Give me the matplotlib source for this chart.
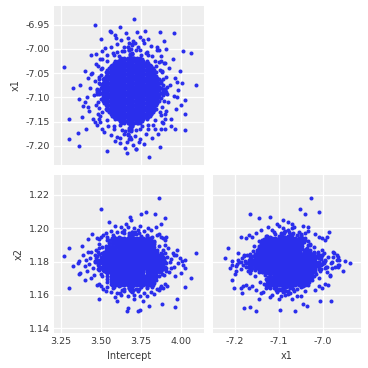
import matplotlib
matplotlib.use("Agg")
import matplotlib.pyplot as plt
import numpy as np

# posterior draws (Intercept, x1, x2)
# dense centre of the cloud, one line per Intercept value
core_intercept = ([3.510] * 7 + [3.529] * 11 + [3.549] * 13 + [3.568] * 15
                  + [3.588] * 17 + [3.607] * 17 + [3.627] * 19 + [3.646] * 19
                  + [3.666] * 19 + [3.685] * 19 + [3.705] * 19 + [3.724] * 19
                  + [3.744] * 19 + [3.763] * 17 + [3.783] * 17 + [3.802] * 15
                  + [3.822] * 13 + [3.841] * 11 + [3.861] * 7)
core_x1 = [
    -7.108, -7.100, -7.093, -7.085, -7.078, -7.070, -7.063,
    -7.123, -7.115, -7.108, -7.100, -7.093, -7.085, -7.078, -7.070, -7.063, -7.055, -7.048,
    -7.130, -7.123, -7.115, -7.108, -7.100, -7.093, -7.085, -7.078, -7.070, -7.063, -7.055, -7.048, -7.040,
    -7.138, -7.130, -7.123, -7.115, -7.108, -7.100, -7.093, -7.085, -7.078, -7.070, -7.063, -7.055, -7.048, -7.040, -7.033,
    -7.145, -7.138, -7.130, -7.123, -7.115, -7.108, -7.100, -7.093, -7.085, -7.078, -7.070, -7.063, -7.055, -7.048, -7.040, -7.033, -7.025,
    -7.145, -7.138, -7.130, -7.123, -7.115, -7.108, -7.100, -7.093, -7.085, -7.078, -7.070, -7.063, -7.055, -7.048, -7.040, -7.033, -7.025,
    -7.153, -7.145, -7.138, -7.130, -7.123, -7.115, -7.108, -7.100, -7.093, -7.085, -7.078, -7.070, -7.063, -7.055, -7.048, -7.040, -7.033, -7.025, -7.018,
    -7.153, -7.145, -7.138, -7.130, -7.123, -7.115, -7.108, -7.100, -7.093, -7.085, -7.078, -7.070, -7.063, -7.055, -7.048, -7.040, -7.033, -7.025, -7.018,
    -7.153, -7.145, -7.138, -7.130, -7.123, -7.115, -7.108, -7.100, -7.093, -7.085, -7.078, -7.070, -7.063, -7.055, -7.048, -7.040, -7.033, -7.025, -7.018,
    -7.153, -7.145, -7.138, -7.130, -7.123, -7.115, -7.108, -7.100, -7.093, -7.085, -7.078, -7.070, -7.063, -7.055, -7.048, -7.040, -7.033, -7.025, -7.018,
    -7.153, -7.145, -7.138, -7.130, -7.123, -7.115, -7.108, -7.100, -7.093, -7.085, -7.078, -7.070, -7.063, -7.055, -7.048, -7.040, -7.033, -7.025, -7.018,
    -7.153, -7.145, -7.138, -7.130, -7.123, -7.115, -7.108, -7.100, -7.093, -7.085, -7.078, -7.070, -7.063, -7.055, -7.048, -7.040, -7.033, -7.025, -7.018,
    -7.153, -7.145, -7.138, -7.130, -7.123, -7.115, -7.108, -7.100, -7.093, -7.085, -7.078, -7.070, -7.063, -7.055, -7.048, -7.040, -7.033, -7.025, -7.018,
    -7.145, -7.138, -7.130, -7.123, -7.115, -7.108, -7.100, -7.093, -7.085, -7.078, -7.070, -7.063, -7.055, -7.048, -7.040, -7.033, -7.025,
    -7.145, -7.138, -7.130, -7.123, -7.115, -7.108, -7.100, -7.093, -7.085, -7.078, -7.070, -7.063, -7.055, -7.048, -7.040, -7.033, -7.025,
    -7.138, -7.130, -7.123, -7.115, -7.108, -7.100, -7.093, -7.085, -7.078, -7.070, -7.063, -7.055, -7.048, -7.040, -7.033,
    -7.130, -7.123, -7.115, -7.108, -7.100, -7.093, -7.085, -7.078, -7.070, -7.063, -7.055, -7.048, -7.040,
    -7.123, -7.115, -7.108, -7.100, -7.093, -7.085, -7.078, -7.070, -7.063, -7.055, -7.048,
    -7.108, -7.100, -7.093, -7.085, -7.078, -7.070, -7.063,
]
core_x2 = [
    1.1752, 1.1768, 1.1784, 1.1800, 1.1816, 1.1832, 1.1848,
    1.1736, 1.1752, 1.1768, 1.1784, 1.1800, 1.1816, 1.1832, 1.1848, 1.1864, 1.1880, 1.1896,
    1.1736, 1.1752, 1.1768, 1.1784, 1.1800, 1.1816, 1.1832, 1.1848, 1.1864, 1.1880, 1.1896, 1.1912, 1.1928,
    1.1736, 1.1752, 1.1768, 1.1784, 1.1800, 1.1816, 1.1832, 1.1848, 1.1864, 1.1880, 1.1896, 1.1912, 1.1928, 1.1944, 1.1656,
    1.1736, 1.1752, 1.1768, 1.1784, 1.1800, 1.1816, 1.1832, 1.1848, 1.1864, 1.1880, 1.1896, 1.1912, 1.1928, 1.1944, 1.1656, 1.1672, 1.1688,
    1.1752, 1.1768, 1.1784, 1.1800, 1.1816, 1.1832, 1.1848, 1.1864, 1.1880, 1.1896, 1.1912, 1.1928, 1.1944, 1.1656, 1.1672, 1.1688, 1.1704,
    1.1752, 1.1768, 1.1784, 1.1800, 1.1816, 1.1832, 1.1848, 1.1864, 1.1880, 1.1896, 1.1912, 1.1928, 1.1944, 1.1656, 1.1672, 1.1688, 1.1704, 1.1720, 1.1736,
    1.1768, 1.1784, 1.1800, 1.1816, 1.1832, 1.1848, 1.1864, 1.1880, 1.1896, 1.1912, 1.1928, 1.1944, 1.1656, 1.1672, 1.1688, 1.1704, 1.1720, 1.1736, 1.1752,
    1.1784, 1.1800, 1.1816, 1.1832, 1.1848, 1.1864, 1.1880, 1.1896, 1.1912, 1.1928, 1.1944, 1.1656, 1.1672, 1.1688, 1.1704, 1.1720, 1.1736, 1.1752, 1.1768,
    1.1800, 1.1816, 1.1832, 1.1848, 1.1864, 1.1880, 1.1896, 1.1912, 1.1928, 1.1944, 1.1656, 1.1672, 1.1688, 1.1704, 1.1720, 1.1736, 1.1752, 1.1768, 1.1784,
    1.1816, 1.1832, 1.1848, 1.1864, 1.1880, 1.1896, 1.1912, 1.1928, 1.1944, 1.1656, 1.1672, 1.1688, 1.1704, 1.1720, 1.1736, 1.1752, 1.1768, 1.1784, 1.1800,
    1.1832, 1.1848, 1.1864, 1.1880, 1.1896, 1.1912, 1.1928, 1.1944, 1.1656, 1.1672, 1.1688, 1.1704, 1.1720, 1.1736, 1.1752, 1.1768, 1.1784, 1.1800, 1.1816,
    1.1848, 1.1864, 1.1880, 1.1896, 1.1912, 1.1928, 1.1944, 1.1656, 1.1672, 1.1688, 1.1704, 1.1720, 1.1736, 1.1752, 1.1768, 1.1784, 1.1800, 1.1816, 1.1832,
    1.1880, 1.1896, 1.1912, 1.1928, 1.1944, 1.1656, 1.1672, 1.1688, 1.1704, 1.1720, 1.1736, 1.1752, 1.1768, 1.1784, 1.1800, 1.1816, 1.1832,
    1.1896, 1.1912, 1.1928, 1.1944, 1.1656, 1.1672, 1.1688, 1.1704, 1.1720, 1.1736, 1.1752, 1.1768, 1.1784, 1.1800, 1.1816, 1.1832, 1.1848,
    1.1928, 1.1944, 1.1656, 1.1672, 1.1688, 1.1704, 1.1720, 1.1736, 1.1752, 1.1768, 1.1784, 1.1800, 1.1816, 1.1832, 1.1848,
    1.1656, 1.1672, 1.1688, 1.1704, 1.1720, 1.1736, 1.1752, 1.1768, 1.1784, 1.1800, 1.1816, 1.1832, 1.1848,
    1.1688, 1.1704, 1.1720, 1.1736, 1.1752, 1.1768, 1.1784, 1.1800, 1.1816, 1.1832, 1.1848,
    1.1736, 1.1752, 1.1768, 1.1784, 1.1800, 1.1816, 1.1832,
]

# more draws of the centre, lying between the ones above
core2_intercept = ([3.520] * 8 + [3.539] * 12 + [3.559] * 14 + [3.578] * 16
                   + [3.598] * 16 + [3.617] * 18 + [3.637] * 18 + [3.656] * 18
                   + [3.676] * 18 + [3.695] * 18 + [3.715] * 18 + [3.734] * 18
                   + [3.754] * 18 + [3.773] * 16 + [3.793] * 16 + [3.812] * 14
                   + [3.832] * 12 + [3.851] * 8)
core2_x1 = [
    -7.111, -7.104, -7.096, -7.089, -7.081, -7.074, -7.066, -7.059,
    -7.126, -7.119, -7.111, -7.104, -7.096, -7.089, -7.081, -7.074, -7.066, -7.059, -7.051, -7.044,
    -7.134, -7.126, -7.119, -7.111, -7.104, -7.096, -7.089, -7.081, -7.074, -7.066, -7.059, -7.051, -7.044, -7.036,
    -7.141, -7.134, -7.126, -7.119, -7.111, -7.104, -7.096, -7.089, -7.081, -7.074, -7.066, -7.059, -7.051, -7.044, -7.036, -7.029,
    -7.141, -7.134, -7.126, -7.119, -7.111, -7.104, -7.096, -7.089, -7.081, -7.074, -7.066, -7.059, -7.051, -7.044, -7.036, -7.029,
    -7.149, -7.141, -7.134, -7.126, -7.119, -7.111, -7.104, -7.096, -7.089, -7.081, -7.074, -7.066, -7.059, -7.051, -7.044, -7.036, -7.029, -7.021,
    -7.149, -7.141, -7.134, -7.126, -7.119, -7.111, -7.104, -7.096, -7.089, -7.081, -7.074, -7.066, -7.059, -7.051, -7.044, -7.036, -7.029, -7.021,
    -7.149, -7.141, -7.134, -7.126, -7.119, -7.111, -7.104, -7.096, -7.089, -7.081, -7.074, -7.066, -7.059, -7.051, -7.044, -7.036, -7.029, -7.021,
    -7.149, -7.141, -7.134, -7.126, -7.119, -7.111, -7.104, -7.096, -7.089, -7.081, -7.074, -7.066, -7.059, -7.051, -7.044, -7.036, -7.029, -7.021,
    -7.149, -7.141, -7.134, -7.126, -7.119, -7.111, -7.104, -7.096, -7.089, -7.081, -7.074, -7.066, -7.059, -7.051, -7.044, -7.036, -7.029, -7.021,
    -7.149, -7.141, -7.134, -7.126, -7.119, -7.111, -7.104, -7.096, -7.089, -7.081, -7.074, -7.066, -7.059, -7.051, -7.044, -7.036, -7.029, -7.021,
    -7.149, -7.141, -7.134, -7.126, -7.119, -7.111, -7.104, -7.096, -7.089, -7.081, -7.074, -7.066, -7.059, -7.051, -7.044, -7.036, -7.029, -7.021,
    -7.149, -7.141, -7.134, -7.126, -7.119, -7.111, -7.104, -7.096, -7.089, -7.081, -7.074, -7.066, -7.059, -7.051, -7.044, -7.036, -7.029, -7.021,
    -7.141, -7.134, -7.126, -7.119, -7.111, -7.104, -7.096, -7.089, -7.081, -7.074, -7.066, -7.059, -7.051, -7.044, -7.036, -7.029,
    -7.141, -7.134, -7.126, -7.119, -7.111, -7.104, -7.096, -7.089, -7.081, -7.074, -7.066, -7.059, -7.051, -7.044, -7.036, -7.029,
    -7.134, -7.126, -7.119, -7.111, -7.104, -7.096, -7.089, -7.081, -7.074, -7.066, -7.059, -7.051, -7.044, -7.036,
    -7.126, -7.119, -7.111, -7.104, -7.096, -7.089, -7.081, -7.074, -7.066, -7.059, -7.051, -7.044,
    -7.111, -7.104, -7.096, -7.089, -7.081, -7.074, -7.066, -7.059,
]
core2_x2 = [
    1.1744, 1.1760, 1.1776, 1.1792, 1.1808, 1.1824, 1.1840, 1.1856,
    1.1696, 1.1712, 1.1728, 1.1744, 1.1760, 1.1776, 1.1792, 1.1808, 1.1824, 1.1840, 1.1856, 1.1872,
    1.1664, 1.1680, 1.1696, 1.1712, 1.1728, 1.1744, 1.1760, 1.1776, 1.1792, 1.1808, 1.1824, 1.1840, 1.1856, 1.1872,
    1.1920, 1.1936, 1.1664, 1.1680, 1.1696, 1.1712, 1.1728, 1.1744, 1.1760, 1.1776, 1.1792, 1.1808, 1.1824, 1.1840, 1.1856, 1.1872,
    1.1904, 1.1920, 1.1936, 1.1664, 1.1680, 1.1696, 1.1712, 1.1728, 1.1744, 1.1760, 1.1776, 1.1792, 1.1808, 1.1824, 1.1840, 1.1856,
    1.1872, 1.1888, 1.1904, 1.1920, 1.1936, 1.1664, 1.1680, 1.1696, 1.1712, 1.1728, 1.1744, 1.1760, 1.1776, 1.1792, 1.1808, 1.1824, 1.1840, 1.1856,
    1.1856, 1.1872, 1.1888, 1.1904, 1.1920, 1.1936, 1.1664, 1.1680, 1.1696, 1.1712, 1.1728, 1.1744, 1.1760, 1.1776, 1.1792, 1.1808, 1.1824, 1.1840,
    1.1840, 1.1856, 1.1872, 1.1888, 1.1904, 1.1920, 1.1936, 1.1664, 1.1680, 1.1696, 1.1712, 1.1728, 1.1744, 1.1760, 1.1776, 1.1792, 1.1808, 1.1824,
    1.1824, 1.1840, 1.1856, 1.1872, 1.1888, 1.1904, 1.1920, 1.1936, 1.1664, 1.1680, 1.1696, 1.1712, 1.1728, 1.1744, 1.1760, 1.1776, 1.1792, 1.1808,
    1.1808, 1.1824, 1.1840, 1.1856, 1.1872, 1.1888, 1.1904, 1.1920, 1.1936, 1.1664, 1.1680, 1.1696, 1.1712, 1.1728, 1.1744, 1.1760, 1.1776, 1.1792,
    1.1792, 1.1808, 1.1824, 1.1840, 1.1856, 1.1872, 1.1888, 1.1904, 1.1920, 1.1936, 1.1664, 1.1680, 1.1696, 1.1712, 1.1728, 1.1744, 1.1760, 1.1776,
    1.1776, 1.1792, 1.1808, 1.1824, 1.1840, 1.1856, 1.1872, 1.1888, 1.1904, 1.1920, 1.1936, 1.1664, 1.1680, 1.1696, 1.1712, 1.1728, 1.1744, 1.1760,
    1.1760, 1.1776, 1.1792, 1.1808, 1.1824, 1.1840, 1.1856, 1.1872, 1.1888, 1.1904, 1.1920, 1.1936, 1.1664, 1.1680, 1.1696, 1.1712, 1.1728, 1.1744,
    1.1760, 1.1776, 1.1792, 1.1808, 1.1824, 1.1840, 1.1856, 1.1872, 1.1888, 1.1904, 1.1920, 1.1936, 1.1664, 1.1680, 1.1696, 1.1712,
    1.1744, 1.1760, 1.1776, 1.1792, 1.1808, 1.1824, 1.1840, 1.1856, 1.1872, 1.1888, 1.1904, 1.1920, 1.1936, 1.1664, 1.1680, 1.1696,
    1.1744, 1.1760, 1.1776, 1.1792, 1.1808, 1.1824, 1.1840, 1.1856, 1.1872, 1.1888, 1.1904, 1.1920, 1.1936, 1.1664,
    1.1744, 1.1760, 1.1776, 1.1792, 1.1808, 1.1824, 1.1840, 1.1856, 1.1872, 1.1888, 1.1904, 1.1920,
    1.1760, 1.1776, 1.1792, 1.1808, 1.1824, 1.1840, 1.1856, 1.1872,
]

# draws just outside the centre, one block per pair of variables
halo_intercept = [
    3.890, 3.885, 3.868, 3.835, 3.790, 3.742, 3.688, 3.630, 3.580, 3.538, 3.505, 3.485,
    3.475, 3.483, 3.505, 3.538, 3.582, 3.632, 3.688, 3.742, 3.792, 3.835, 3.868, 3.890,
    3.895, 3.882, 3.862, 3.828, 3.788, 3.738, 3.685, 3.630, 3.582, 3.540, 3.505, 3.485,
    3.478, 3.488, 3.508, 3.540, 3.582, 3.632, 3.686, 3.738, 3.788, 3.830, 3.862, 3.885,
    3.690, 3.678, 3.695, 3.682, 3.688, 3.676, 3.692, 3.684, 3.679, 3.694, 3.681, 3.689,
    3.685, 3.677, 3.693, 3.683, 3.690, 3.678, 3.694, 3.682, 3.688, 3.680, 3.692, 3.684,
]
halo_x1 = [
    -7.082, -7.062, -7.043, -7.024, -7.012, -7.002, -7.000, -7.004, -7.012, -7.025, -7.040, -7.062,
    -7.088, -7.110, -7.130, -7.146, -7.160, -7.168, -7.170, -7.166, -7.158, -7.146, -7.130, -7.108,
    -7.082, -7.090, -7.078, -7.095, -7.080, -7.088, -7.092, -7.078, -7.086, -7.094, -7.080, -7.088,
    -7.084, -7.092, -7.079, -7.090, -7.085, -7.093, -7.080, -7.090, -7.084, -7.078, -7.092, -7.086,
    -7.008, -7.012, -7.020, -7.033, -7.050, -7.068, -7.088, -7.108, -7.127, -7.144, -7.156, -7.165,
    -7.168, -7.164, -7.155, -7.142, -7.126, -7.107, -7.087, -7.067, -7.048, -7.032, -7.020, -7.010,
]
halo_x2 = [
    1.1790, 1.1830, 1.1760, 1.1815, 1.1775, 1.1840, 1.1800, 1.1755, 1.1825, 1.1785, 1.1810, 1.1770,
    1.1835, 1.1795, 1.1760, 1.1820, 1.1780, 1.1805, 1.1765, 1.1830, 1.1790, 1.1810, 1.1775, 1.1820,
    1.1795, 1.1848, 1.1892, 1.1925, 1.1955, 1.1972, 1.1968, 1.1975, 1.1950, 1.1928, 1.1890, 1.1848,
    1.1802, 1.1752, 1.1712, 1.1675, 1.1645, 1.1628, 1.1625, 1.1632, 1.1648, 1.1672, 1.1712, 1.1755,
    1.1795, 1.1848, 1.1890, 1.1925, 1.1952, 1.1970, 1.1975, 1.1968, 1.1952, 1.1925, 1.1892, 1.1848,
    1.1800, 1.1752, 1.1710, 1.1675, 1.1648, 1.1630, 1.1625, 1.1632, 1.1650, 1.1675, 1.1712, 1.1755,
]

# outer part of the cloud and the stray draws
tail_intercept = [
    # low / high Intercept
    3.505, 3.498, 3.489, 3.495, 3.482, 3.497, 3.486, 3.493, 3.478, 3.470,
    3.462, 3.455, 3.468, 3.448, 3.440, 3.431, 3.425, 3.437, 3.412, 3.405,
    3.398, 3.388, 3.372, 3.381, 3.360,
    3.872, 3.878, 3.870, 3.885, 3.875, 3.882, 3.871, 3.888, 3.895, 3.905,
    3.910, 3.902, 3.918, 3.925, 3.930, 3.938, 3.945, 3.952, 3.960, 3.968,
    3.978, 3.990, 3.998, 3.935, 4.005,
    # high / low x1
    3.540, 3.575, 3.610, 3.645, 3.680, 3.715, 3.750, 3.785, 3.820, 3.850,
    3.560, 3.600, 3.640, 3.690, 3.730, 3.770, 3.810, 3.625, 3.665, 3.700,
    3.745, 3.585, 3.795, 3.655, 3.725,
    3.545, 3.580, 3.615, 3.650, 3.685, 3.720, 3.755, 3.790, 3.825, 3.560,
    3.600, 3.640, 3.675, 3.710, 3.745, 3.780, 3.815, 3.620, 3.660, 3.700,
    3.735, 3.590, 3.770, 3.650, 3.715,
    # high / low x2
    3.540, 3.575, 3.610, 3.645, 3.680, 3.715, 3.750, 3.785, 3.820, 3.850,
    3.560, 3.600, 3.640, 3.690, 3.730, 3.770, 3.810, 3.625, 3.665, 3.705,
    3.745, 3.585, 3.795, 3.840, 3.655,
    3.540, 3.575, 3.610, 3.645, 3.680, 3.715, 3.750, 3.785, 3.820, 3.850,
    3.560, 3.600, 3.640, 3.690, 3.730, 3.770, 3.810, 3.625, 3.665, 3.705,
    3.745, 3.785, 3.830, 3.590, 3.705,
    # rim of the (Intercept, x1) cloud
    3.495, 3.505, 3.520, 3.480, 3.880, 3.870, 3.855, 3.895, 3.495, 3.505,
    3.525, 3.480, 3.875, 3.862, 3.848, 3.890, 3.460, 3.905, 3.470, 3.900,
    # rim of the (Intercept, x2) cloud
    3.500, 3.515, 3.490, 3.530, 3.870, 3.885, 3.860, 3.895, 3.500, 3.515,
    3.490, 3.530, 3.870, 3.885, 3.860, 3.895, 3.475, 3.905, 3.478, 3.908,
    # rim of the (x1, x2) cloud
    3.690, 3.675, 3.700, 3.665, 3.690, 3.675, 3.700, 3.665, 3.690, 3.675,
    3.700, 3.665, 3.690, 3.675, 3.700, 3.665, 3.680, 3.695, 3.685, 3.672,
    # fill
    3.765, 3.780, 3.795, 3.805, 3.818, 3.785, 3.770, 3.812, 3.800, 3.825,
    3.570, 3.585, 3.598, 3.608, 3.575, 3.592, 3.605, 3.565, 3.580, 3.600,
    3.690, 3.675, 3.700, 3.665, 3.695, 3.680, 3.710, 3.670, 3.705, 3.685,
    3.690, 3.675, 3.700, 3.665, 3.695, 3.680, 3.710, 3.672, 3.705, 3.685,
    # strays
    3.862, 3.500, 3.779, 3.750, 3.838, 3.681, 3.900, 3.688, 3.873, 3.550,
    3.710, 3.269, 3.300, 3.300, 3.327, 3.362, 3.358, 3.400, 3.420, 3.420,
    3.446, 3.462, 3.500, 3.555, 3.565, 3.619, 3.594, 3.702, 3.771, 3.869,
    3.956, 3.890, 4.012, 4.060, 4.088, 3.975, 4.022, 4.025, 4.025, 3.962,
    3.973, 3.536, 3.660, 3.800, 3.869, 3.720, 3.620, 3.670, 3.730, 3.490,
    3.745, 3.660, 3.800, 3.880, 3.600, 3.760,
]
tail_x1 = [
    -7.020, -7.041, -7.058, -7.072, -7.089, -7.104, -7.121, -7.139, -7.158, -7.032,
    -7.066, -7.096, -7.115, -7.145, -7.052, -7.081, -7.128, -7.012, -7.100, -7.165,
    -7.045, -7.118, -7.075, -7.140, -7.103,
    -7.025, -7.048, -7.066, -7.083, -7.101, -7.119, -7.137, -7.152, -7.030, -7.058,
    -7.092, -7.128, -7.110, -7.040, -7.075, -7.145, -7.020, -7.098, -7.060, -7.125,
    -7.085, -7.045, -7.115, -7.160, -7.070,
    -7.012, -7.008, -7.015, -7.005, -7.010, -7.003, -7.012, -7.006, -7.014, -7.002,
    -6.995, -6.990, -6.997, -6.992, -6.996, -6.988, -6.994, -6.982, -6.978, -6.984,
    -6.975, -6.972, -6.980, -6.968, -6.965,
    -7.160, -7.166, -7.158, -7.170, -7.162, -7.168, -7.159, -7.165, -7.157, -7.178,
    -7.182, -7.176, -7.185, -7.179, -7.186, -7.175, -7.183, -7.195, -7.192, -7.198,
    -7.193, -7.190, -7.196, -7.205, -7.207,
    -7.090, -7.060, -7.120, -7.040, -7.100, -7.075, -7.130, -7.050, -7.095, -7.070,
    -7.035, -7.110, -7.080, -7.055, -7.140, -7.085, -7.115, -7.065, -7.125, -7.090,
    -7.045, -7.100, -7.070, -7.035, -7.105,
    -7.070, -7.110, -7.045, -7.095, -7.130, -7.060, -7.085, -7.120, -7.050, -7.100,
    -7.090, -7.140, -7.065, -7.105, -7.040, -7.075, -7.135, -7.085, -7.050, -7.115,
    -7.095, -7.060, -7.080, -7.120, -7.070,
    -7.150, -7.165, -7.172, -7.135, -7.150, -7.165, -7.175, -7.135, -7.020, -7.005,
    -6.998, -7.035, -7.015, -7.003, -6.996, -7.030, -7.150, -7.000, -7.010, -7.165,
    -7.080, -7.095, -7.070, -7.085, -7.090, -7.075, -7.100, -7.085, -7.090, -7.075,
    -7.085, -7.095, -7.080, -7.095, -7.070, -7.090, -7.082, -7.088, -7.092, -7.078,
    -7.160, -7.168, -7.152, -7.175, -7.010, -7.002, -7.018, -6.995, -7.160, -7.168,
    -7.152, -7.175, -7.010, -7.002, -7.018, -6.995, -7.182, -6.990, -7.185, -6.988,
    -7.088, -7.075, -7.095, -7.080, -7.070, -7.100, -7.065, -7.092, -7.060, -7.085,
    -7.085, -7.072, -7.095, -7.078, -7.100, -7.065, -7.090, -7.075, -7.088, -7.082,
    -7.054, -7.048, -7.041, -7.036, -7.050, -7.044, -7.034, -7.058, -7.038, -7.030,
    -7.128, -7.120, -7.115, -7.125, -7.132, -7.118, -7.124, -7.113, -7.136, -7.110,
    -7.028, -7.053, -7.008, -7.040, -7.166, -7.121, -7.144, -7.090, -7.070, -7.079,
    -6.987, -7.037, -7.144, -7.185, -7.081, -7.200, -7.174, -7.110, -7.060, -7.120,
    -7.050, -6.951, -6.980, -6.963, -6.966, -6.955, -6.977, -6.939, -6.963, -6.965,
    -6.968, -6.984, -7.005, -7.008, -7.074, -7.068, -7.106, -7.135, -7.168, -7.165,
    -7.100, -7.210, -7.215, -7.223, -7.202, -7.206, -7.183, -7.178, -7.152, -7.145,
    -7.098, -7.064, -7.037, -7.046, -7.006, -6.982,
]
tail_x2 = [
    1.1850, 1.1722, 1.1880, 1.1790, 1.1755, 1.1830, 1.1905, 1.1770, 1.1812, 1.1795,
    1.1842, 1.1718, 1.1868, 1.1760, 1.1702, 1.1820, 1.1788, 1.1860, 1.1745, 1.1810,
    1.1776, 1.1842, 1.1728, 1.1895, 1.1805,
    1.1790, 1.1832, 1.1742, 1.1868, 1.1810, 1.1722, 1.1850, 1.1775, 1.1902, 1.1760,
    1.1825, 1.1745, 1.1880, 1.1735, 1.1798, 1.1815, 1.1850, 1.1768, 1.1712, 1.1840,
    1.1792, 1.1822, 1.1730, 1.1760, 1.1805,
    1.1780, 1.1840, 1.1725, 1.1815, 1.1760, 1.1870, 1.1798, 1.1742, 1.1830, 1.1788,
    1.1812, 1.1770, 1.1852, 1.1738, 1.1805, 1.1825, 1.1765, 1.1790, 1.1830, 1.1712,
    1.1850, 1.1765, 1.1795, 1.1808, 1.1778,
    1.1800, 1.1760, 1.1835, 1.1745, 1.1818, 1.1788, 1.1862, 1.1730, 1.1810, 1.1842,
    1.1778, 1.1802, 1.1758, 1.1832, 1.1795, 1.1768, 1.1820, 1.1785, 1.1850, 1.1740,
    1.1812, 1.1795, 1.1772, 1.1805, 1.1780,
    1.1950, 1.1962, 1.1948, 1.1970, 1.1955, 1.1965, 1.1952, 1.1960, 1.1947, 1.1958,
    1.1985, 1.1980, 1.1992, 1.1978, 1.1988, 1.1982, 1.1990, 1.2005, 1.2010, 1.2002,
    1.2012, 1.2015, 1.2000, 1.2008, 1.2025,
    1.1645, 1.1638, 1.1650, 1.1632, 1.1642, 1.1636, 1.1648, 1.1640, 1.1646, 1.1635,
    1.1618, 1.1612, 1.1620, 1.1615, 1.1622, 1.1610, 1.1618, 1.1598, 1.1592, 1.1600,
    1.1590, 1.1595, 1.1602, 1.1585, 1.1575,
    1.1810, 1.1760, 1.1840, 1.1780, 1.1820, 1.1750, 1.1790, 1.1850, 1.1770, 1.1830,
    1.1790, 1.1860, 1.1780, 1.1840, 1.1760, 1.1810, 1.1800, 1.1790, 1.1820, 1.1770,
    1.1650, 1.1635, 1.1665, 1.1625, 1.1650, 1.1640, 1.1630, 1.1662, 1.1950, 1.1962,
    1.1938, 1.1972, 1.1950, 1.1940, 1.1965, 1.1932, 1.1660, 1.1948, 1.1942, 1.1655,
    1.1650, 1.1638, 1.1628, 1.1660, 1.1650, 1.1640, 1.1630, 1.1662, 1.1950, 1.1962,
    1.1972, 1.1940, 1.1950, 1.1940, 1.1965, 1.1932, 1.1655, 1.1948, 1.1945, 1.1658,
    1.1866, 1.1880, 1.1858, 1.1874, 1.1890, 1.1895, 1.1850, 1.1862, 1.1905, 1.1878,
    1.1690, 1.1712, 1.1700, 1.1726, 1.1725, 1.1680, 1.1742, 1.1708, 1.1740, 1.1672,
    1.1862, 1.1878, 1.1866, 1.1884, 1.1894, 1.1852, 1.1898, 1.1888, 1.1875, 1.1905,
    1.1695, 1.1712, 1.1688, 1.1730, 1.1720, 1.1740, 1.1705, 1.1680, 1.1738, 1.1722,
    1.2182, 1.2116, 1.2097, 1.2085, 1.2085, 1.2068, 1.2062, 1.2050, 1.2025, 1.2040,
    1.1976, 1.1834, 1.1880, 1.1643, 1.1774, 1.1724, 1.1790, 1.1690, 1.1860, 1.1935,
    1.1965, 1.1804, 1.1760, 1.1780, 1.1830, 1.1740, 1.1860, 1.1794, 1.1810, 1.1770,
    1.1840, 1.1720, 1.1780, 1.1700, 1.1854, 1.1870, 1.1647, 1.1760, 1.1810, 1.1527,
    1.1577, 1.1764, 1.1880, 1.1824, 1.1638, 1.1690, 1.1612, 1.1519, 1.1505, 1.1573,
    1.1510, 1.1505, 1.1535, 1.1545, 1.1562, 1.1565,
]

intercept = np.array(core_intercept + core2_intercept + halo_intercept + tail_intercept)
x1 = np.array(core_x1 + core2_x1 + halo_x1 + tail_x1)
x2 = np.array(core_x2 + core2_x2 + halo_x2 + tail_x2)

intercept_ticks = [3.25, 3.50, 3.75, 4.00]
x1_ticks_left = [-7.20, -7.15, -7.10, -7.05, -7.00, -6.95]
x1_ticks_bottom = [-7.2, -7.1, -7.0]
x2_ticks = [1.14, 1.16, 1.18, 1.20, 1.22]

blue = "#2a2eec"
text_col = "#3a3a3a"

fig = plt.figure(figsize=(3.68, 3.68), dpi=100)
ax_tl = fig.add_axes([0.1476, 0.5516, 0.4068, 0.4334])
ax_bl = fig.add_axes([0.1476, 0.0959, 0.4068, 0.4285])
ax_br = fig.add_axes([0.5780, 0.0959, 0.4030, 0.4285])

for ax in (ax_tl, ax_bl, ax_br):
    ax.set_facecolor("#eeeeee")
    for s in ax.spines.values():
        s.set_visible(False)
    ax.grid(True, color="white", lw=0.9)
    ax.set_axisbelow(True)
    ax.tick_params(length=0, labelsize=6.8, colors=text_col, pad=3)

ms = 2.9
ax_tl.plot(intercept, x1, "o", ms=ms, mew=0, color=blue)
ax_bl.plot(intercept, x2, "o", ms=ms, mew=0, color=blue)
ax_br.plot(x1, x2, "o", ms=ms, mew=0, color=blue)

ax_tl.set_xlim(3.2096, 4.1405)
ax_bl.set_xlim(3.2096, 4.1405)
ax_tl.set_ylim(-7.2396, -6.9104)
ax_bl.set_ylim(1.1372, 1.2320)
ax_br.set_ylim(1.1372, 1.2320)
ax_br.set_xlim(-7.2498, -6.9139)

ax_tl.set_xticks(intercept_ticks)
ax_tl.set_xticklabels([])
ax_tl.set_yticks(x1_ticks_left)
ax_tl.set_yticklabels(["%.2f" % v for v in x1_ticks_left])
ax_bl.set_xticks(intercept_ticks)
ax_bl.set_xticklabels(["%.2f" % v for v in intercept_ticks])
ax_bl.set_yticks(x2_ticks)
ax_bl.set_yticklabels(["%.2f" % v for v in x2_ticks])
ax_br.set_xticks(x1_ticks_bottom)
ax_br.set_xticklabels(["%.1f" % v for v in x1_ticks_bottom])
ax_br.set_yticks(x2_ticks)
ax_br.set_yticklabels([])

ax_tl.set_ylabel("x1", fontsize=7, color=text_col)
ax_bl.set_ylabel("x2", fontsize=7, color=text_col)
ax_bl.set_xlabel("Intercept", fontsize=7, color=text_col)
ax_br.set_xlabel("x1", fontsize=7, color=text_col)

fig.savefig("out.png", dpi=100)
